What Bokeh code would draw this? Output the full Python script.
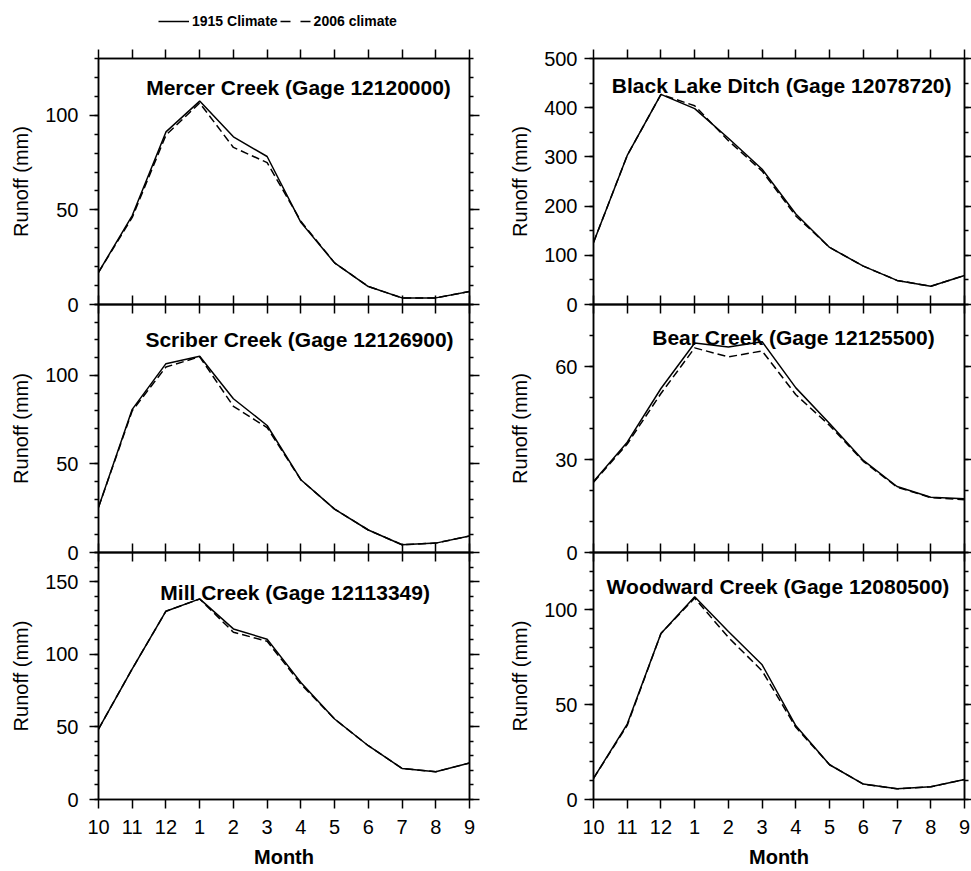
from bokeh.plotting import figure
from bokeh.models import (Range1d, LinearAxis, FixedTicker, SingleIntervalTicker,
                          Label, Legend, LegendItem, CustomJSTickFormatter)
from bokeh.layouts import column, row
from bokeh.embed import file_html
from bokeh.resources import INLINE

# ---------------- data ----------------
months = ["10", "11", "12", "1", "2", "3", "4", "5", "6", "7", "8", "9"]
series_names = ["1915 Climate", "2006 climate"]

mercer_1915 = [17.0, 47.0, 91.2, 107.5, 88.6, 78.2, 43.4, 22.0, 9.5, 3.5, 3.5, 6.9]
mercer_2006 = [17.0, 46.0, 89.5, 106.5, 83.0, 75.0, 44.0, 22.0, 9.5, 3.5, 3.5, 6.9]

black_1915 = [126, 303, 427, 398, 338, 275, 184, 116, 78, 49, 37, 59]
black_2006 = [126, 303, 427, 404, 333, 271, 180, 116, 78, 49, 37, 59]

scriber_1915 = [25.5, 80.8, 106.6, 110.8, 86.8, 71.7, 41.1, 24.5, 12.7, 4.4, 5.3, 9.3]
scriber_2006 = [25.5, 80.0, 104.7, 110.5, 82.5, 70.5, 41.0, 24.5, 12.7, 4.4, 5.3, 9.3]

bear_1915 = [22.9, 35.6, 52.9, 67.6, 66.3, 68.0, 53.1, 41.6, 29.7, 21.3, 17.8, 17.3]
bear_2006 = [22.7, 35.0, 51.3, 66.0, 63.1, 65.0, 50.9, 41.0, 29.4, 21.1, 17.7, 17.0]

mill_1915 = [48.5, 89.9, 129.6, 138.1, 117.4, 110.3, 80.6, 55.4, 37.0, 21.4, 19.1, 25.1]
mill_2006 = [48.5, 89.9, 129.6, 138.0, 115.1, 108.9, 79.5, 55.4, 37.0, 21.4, 19.1, 25.1]

wood_1915 = [11.1, 39.7, 87.4, 106.7, 88.4, 70.9, 38.8, 18.3, 8.1, 5.6, 6.7, 10.5]
wood_2006 = [11.1, 39.0, 87.4, 106.0, 85.3, 67.7, 38.0, 18.3, 8.1, 5.6, 6.7, 10.5]

titles = ["Mercer Creek (Gage 12120000)", "Black Lake Ditch (Gage 12078720)",
          "Scriber Creek (Gage 12126900)", "Bear Creek (Gage 12125500)",
          "Mill Creek (Gage 12113349)", "Woodward Creek (Gage 12080500)"]
y_max = [130, 500, 140, 80, 170, 130]
y_major = [50, 100, 50, 30, 50, 50]
y_minor_count = [5, 2, 5, 3, 5, 5]

# ---------------- style / layout ----------------
FONT = "Liberation Sans"
LW = 1.5
FRAME_W = 371
FRAME_H = [246, 248, 247]
TOP_B = [24, 14, 14]
BOT_B = [14, 14, 70]
LEFT_B = [98, 110]
RIGHT_B = [14, 7]
RIGHT_TICK = [10, 7]
LABEL_STANDOFF = [11, 7]
# per panel: title x (data), title baseline drop (px), axis label standoff
TITLE_X = [5.93, 5.58, 5.96, 5.93, 5.83, 5.47]
TITLE_DROP = [28.5, 27.0, 35.3, 33.3, 39.7, 34.0]
AXLAB_STANDOFF = [10, 10, 10, 21, 10, 10]

blank = CustomJSTickFormatter(code="return ''")
xpos = list(range(len(months)))


def style_axis(ax, tick_out, minor_out=0):
    ax.axis_line_width = LW
    ax.axis_line_color = "black"
    ax.major_tick_line_width = LW
    ax.minor_tick_line_width = LW
    ax.major_tick_in = 0
    ax.major_tick_out = tick_out
    ax.minor_tick_in = 0
    ax.minor_tick_out = minor_out
    ax.major_label_text_font = FONT
    ax.major_label_text_font_size = "20px"
    ax.major_label_text_color = "black"
    ax.axis_label_text_font = FONT
    ax.axis_label_text_font_size = "20px"
    ax.axis_label_text_font_style = "normal"
    ax.axis_label_text_color = "black"


def blank_axis(ax):
    ax.formatter = blank
    ax.major_label_text_font_size = "0px"
    ax.major_label_standoff = 0


def make_panel(k, v1915, v2006):
    r, c = divmod(k, 2)
    p = figure(frame_width=FRAME_W, frame_height=FRAME_H[r],
               x_range=Range1d(0, len(months) - 1), y_range=Range1d(0, y_max[k]),
               x_axis_location=None, y_axis_location=None,
               toolbar_location=None, output_backend="svg",
               min_border_left=LEFT_B[c], min_border_right=RIGHT_B[c],
               min_border_top=TOP_B[r], min_border_bottom=BOT_B[r],
               background_fill_color=None, border_fill_color=None,
               outline_line_color="black", outline_line_width=LW)
    p.xgrid.visible = False
    p.ygrid.visible = False

    yt = SingleIntervalTicker(interval=y_major[k], num_minor_ticks=y_minor_count[k])
    xt = FixedTicker(ticks=xpos, minor_ticks=[])

    ya = LinearAxis(ticker=yt, axis_label="Runoff (mm)")
    style_axis(ya, 9, 4)
    ya.major_label_standoff = LABEL_STANDOFF[c]
    ya.axis_label_standoff = AXLAB_STANDOFF[k]
    p.add_layout(ya, "left")

    yr = LinearAxis(ticker=yt)
    style_axis(yr, RIGHT_TICK[c], 4)
    blank_axis(yr)
    p.add_layout(yr, "right")

    xa_top = LinearAxis(ticker=xt)
    style_axis(xa_top, 9)
    blank_axis(xa_top)
    p.add_layout(xa_top, "above")

    xa = LinearAxis(ticker=xt)
    style_axis(xa, 9)
    if r == 2:
        xa.major_label_overrides = {i: m for i, m in enumerate(months)}
        xa.major_label_standoff = 11
        xa.axis_label = "Month"
        xa.axis_label_text_font_style = "bold"
        xa.axis_label_standoff = 9
    else:
        blank_axis(xa)
    p.add_layout(xa, "below")

    p.line(x=xpos, y=v2006, line_color="black", line_width=LW, line_dash="8 4")
    p.line(x=xpos, y=v1915, line_color="black", line_width=LW)

    ty = y_max[k] - TITLE_DROP[k] * y_max[k] / FRAME_H[r]
    p.add_layout(Label(x=TITLE_X[k], y=ty, text=titles[k], text_align="center",
                       text_baseline="alphabetic", text_font=FONT,
                       text_font_size="21px", text_font_style="bold",
                       text_color="black"))
    return p


panels = [make_panel(0, mercer_1915, mercer_2006),
          make_panel(1, black_1915, black_2006),
          make_panel(2, scriber_1915, scriber_2006),
          make_panel(3, bear_1915, bear_2006),
          make_panel(4, mill_1915, mill_2006),
          make_panel(5, wood_1915, wood_2006)]

# legend strip (its lines lie outside the strip's view; only the legend shows)
lg = figure(width=971, height=34, x_range=Range1d(0, 1), y_range=Range1d(-2, -1),
            toolbar_location=None, output_backend="svg", min_border=0,
            x_axis_location=None, y_axis_location=None, outline_line_color=None,
            background_fill_color=None, border_fill_color=None)
lg.xgrid.visible = False
lg.ygrid.visible = False
r_solid = lg.line(x=xpos, y=mercer_1915, line_color="black", line_width=LW)
r_dash = lg.line(x=xpos, y=mercer_2006, line_color="black", line_width=LW, line_dash="10 10")
leg = Legend(items=[LegendItem(label=series_names[0], renderers=[r_solid]),
                    LegendItem(label=series_names[1], renderers=[r_dash])],
             orientation="horizontal", location=(158, 3),
             glyph_width=31, glyph_height=20, label_standoff=3, spacing=2,
             padding=0, margin=0, border_line_color=None, background_fill_alpha=0,
             label_text_font=FONT, label_text_font_size="14px",
             label_text_font_style="bold", label_text_color="black")
lg.add_layout(leg)

row0 = row(panels[0], panels[1])
row1 = row(panels[2], panels[3])
row1.margin = (-28, 0, 0, 0)
row2 = row(panels[4], panels[5])
row2.margin = (-28, 0, 0, 0)

layout = column(lg, row0, row1, row2)

open("out.html", "w").write(file_html(layout, INLINE))
